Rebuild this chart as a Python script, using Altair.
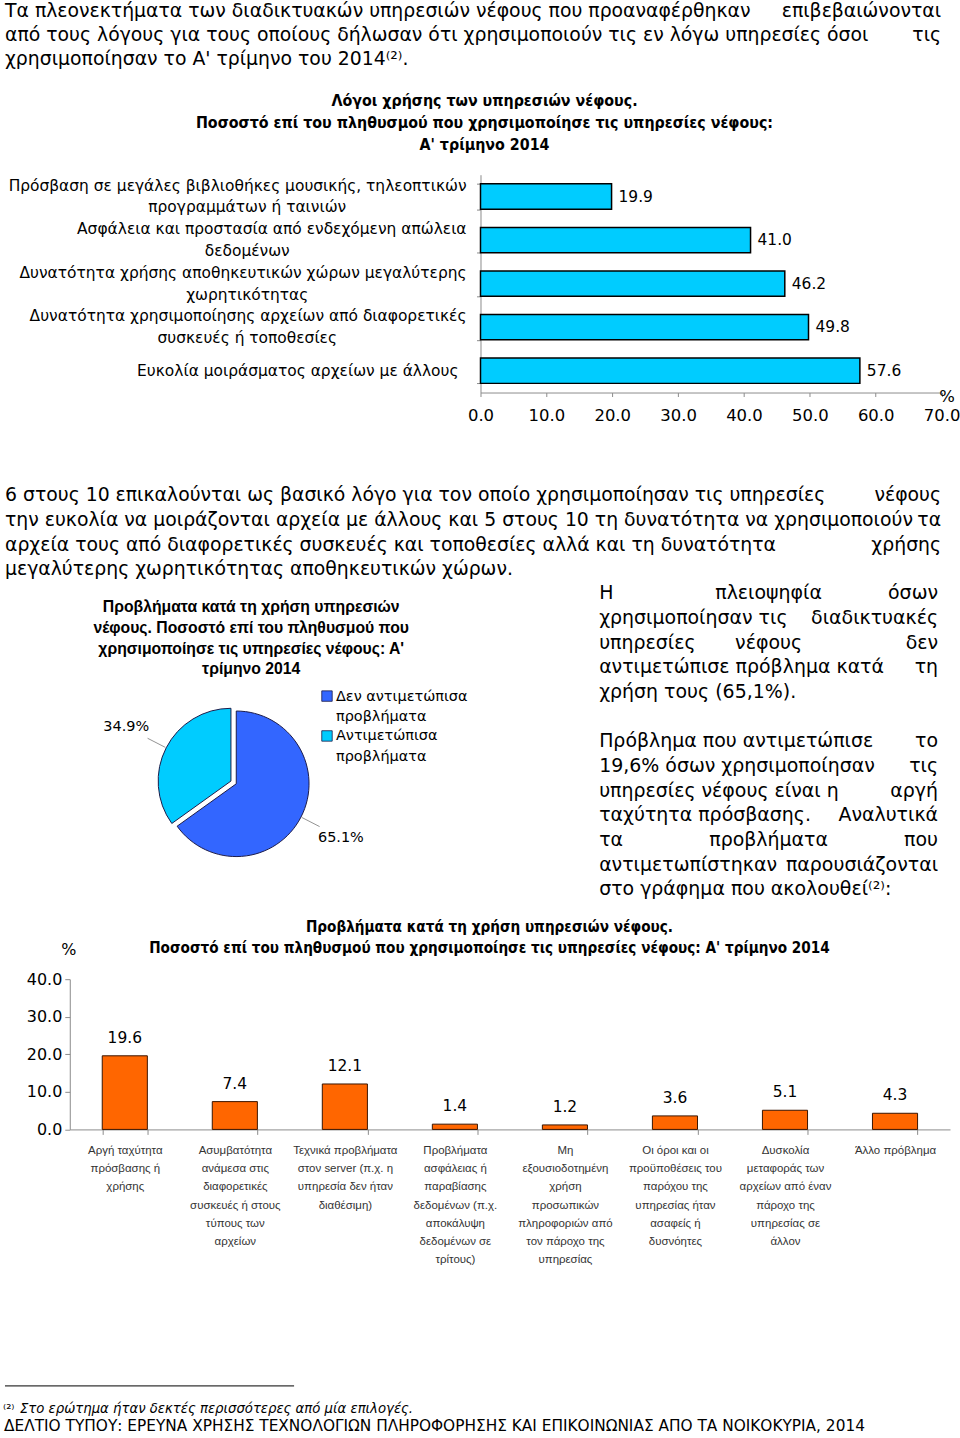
import altair as alt
import pandas as pd

W = 960
BODY = "DejaVu Sans"
NARROW = "Liberation Sans Narrow, DejaVu Sans Condensed, sans-serif"
ARIAL = "Liberation Sans, Arial, sans-serif"

# ---------------- data ----------------
para1 = [
    ["Τα πλεονεκτήματα των διαδικτυακών υπηρεσιών νέφους που προαναφέρθηκαν", "", "επιβεβαιώνονται"],
    ["από τους λόγους για τους οποίους δήλωσαν ότι χρησιμοποιούν τις εν λόγω υπηρεσίες όσοι", "", "τις"],
    ["χρησιμοποίησαν το Α' τρίμηνο του 2014⁽²⁾.", "", ""],
]
chart1_title = ["Λόγοι χρήσης των υπηρεσιών νέφους.",
                "Ποσοστό επί του πληθυσμού που χρησιμοποίησε τις υπηρεσίες νέφους:",
                "Α' τρίμηνο 2014"]
reason_line1 = ["Πρόσβαση σε μεγάλες βιβλιοθήκες μουσικής, τηλεοπτικών",
                "Ασφάλεια και προστασία από ενδεχόμενη απώλεια",
                "Δυνατότητα χρήσης αποθηκευτικών χώρων μεγαλύτερης",
                "Δυνατότητα χρησιμοποίησης αρχείων από διαφορετικές",
                "Ευκολία μοιράσματος αρχείων με άλλους"]
reason_line2 = ["προγραμμάτων ή ταινιών", "δεδομένων", "χωρητικότητας",
                "συσκευές ή  τοποθεσίες", ""]
reason_values = [19.9, 41.0, 46.2, 49.8, 57.6]
chart1_ticks = [0, 10, 20, 30, 40, 50, 60, 70]

para2 = [
    ["6 στους 10 επικαλούνται ως βασικό λόγο για τον οποίο χρησιμοποίησαν τις υπηρεσίες", "", "νέφους"],
    ["την ευκολία να μοιράζονται αρχεία με άλλους και 5 στους 10 τη δυνατότητα να χρησιμοποιούν", "", "τα"],
    ["αρχεία τους από διαφορετικές συσκευές και τοποθεσίες αλλά και τη δυνατότητα", "", "χρήσης"],
    ["μεγαλύτερης χωρητικότητας αποθηκευτικών χώρων.", "", ""],
]
pie_title = ["Προβλήματα κατά τη χρήση υπηρεσιών",
             "νέφους. Ποσοστό επί του πληθυσμού που",
             "χρησιμοποίησε τις υπηρεσίες νέφους:  Α'",
             "τρίμηνο 2014"]
pie_cats = ["Δεν αντιμετώπισα\nπροβλήματα", "Αντιμετώπισα\nπροβλήματα"]
pie_values = [65.1, 34.9]
pie_colors = ["#3366FF", "#00CCFF"]

para3 = [
    ["Η", "πλειοψηφία", "όσων"],
    ["χρησιμοποίησαν τις", "", "διαδικτυακές"],
    ["υπηρεσίες", "νέφους", "δεν"],
    ["αντιμετώπισε πρόβλημα κατά", "", "τη"],
    ["χρήση τους (65,1%).", "", ""],
    ["", "", ""],
    ["Πρόβλημα που αντιμετώπισε", "", "το"],
    ["19,6% όσων χρησιμοποίησαν", "", "τις"],
    ["υπηρεσίες νέφους είναι η", "", "αργή"],
    ["ταχύτητα πρόσβασης.", "", "Αναλυτικά"],
    ["τα", "προβλήματα", "που"],
    ["αντιμετωπίστηκαν", "", "παρουσιάζονται"],
    ["στο γράφημα που ακολουθεί⁽²⁾:", "", ""],
]
chart2_title = ["Προβλήματα κατά τη χρήση υπηρεσιών νέφους.",
                "Ποσοστό επί του πληθυσμού που χρησιμοποίησε τις υπηρεσίες νέφους: Α' τρίμηνο  2014"]
problems = [
    "Αργή ταχύτητα\nπρόσβασης ή\nχρήσης",
    "Ασυμβατότητα\nανάμεσα στις\nδιαφορετικές\nσυσκευές ή στους\nτύπους των\nαρχείων",
    "Τεχνικά προβλήματα\nστον server (π.χ. η\nυπηρεσία δεν ήταν\nδιαθέσιμη)",
    "Προβλήματα\nασφάλειας ή\nπαραβίασης\nδεδομένων (π.χ.\nαποκάλυψη\nδεδομένων σε\nτρίτους)",
    "Μη\nεξουσιοδοτημένη\nχρήση\nπροσωπικών\nπληροφοριών από\nτον πάροχο της\nυπηρεσίας",
    "Οι όροι και οι\nπροϋποθέσεις του\nπαρόχου της\nυπηρεσίας ήταν\nασαφείς ή\nδυσνόητες",
    "Δυσκολία\nμεταφοράς των\nαρχείων από έναν\nπάροχο της\nυπηρεσίας σε\nάλλον",
    "Άλλο πρόβλημα",
]
problem_values = [19.6, 7.4, 12.1, 1.4, 1.2, 3.6, 5.1, 4.3]
chart2_ticks = [0, 10, 20, 30, 40]

footnote_mark = "⁽²⁾"
footnote = "Στο ερώτημα ήταν δεκτές περισσότερες από μία επιλογές."
source = "ΔΕΛΤΙΟ ΤΥΠΟΥ:  ΕΡΕΥΝΑ ΧΡΗΣΗΣ ΤΕΧΝΟΛΟΓΙΩΝ ΠΛΗΡΟΦΟΡΗΣΗΣ ΚΑΙ ΕΠΙΚΟΙΝΩΝΙΑΣ ΑΠΟ ΤΑ ΝΟΙΚΟΚΥΡΙΑ, 2014"

PARA_SIZE = 18.9


# ---------------- helpers ----------------
def paragraph(lines, x0, x1, y0, y1, size=PARA_SIZE, font=BODY):
    df = pd.DataFrame(lines, columns=["l", "c", "r"])
    df["row"] = list(range(len(df)))
    y = alt.Y("row:O", scale=alt.Scale(type="point", range=[y0, y1], padding=0), axis=None)
    common = dict(baseline="middle", font=font, fontSize=size, color="black")
    base = alt.Chart(df)
    return [
        base.mark_text(align="left", **common).encode(x=alt.value(x0), y=y, text="l:N"),
        base.mark_text(align="center", **common).encode(x=alt.value((x0 + x1) / 2), y=y, text="c:N"),
        base.mark_text(align="right", **common).encode(x=alt.value(x1), y=y, text="r:N"),
    ]


def block_text(lines, x, y, size, font, weight="normal", lh=22, align="center"):
    df = pd.DataFrame({"t": ["\n".join(lines)]})
    return alt.Chart(df).mark_text(
        align=align, baseline="line-top", lineBreak="\n", lineHeight=lh,
        font=font, fontSize=size, fontWeight=weight, color="black"
    ).encode(x=alt.value(x), y=alt.value(y), text="t:N")


# ---------------- section A: first paragraph ----------------
secA = alt.layer(*paragraph(para1, 5, 944, 9, 57)).properties(width=W, height=84)

# ---------------- section B: reasons bar chart ----------------
H_B = 386
df1 = pd.DataFrame({"cat": reason_line1, "l2": reason_line2, "value": reason_values})
axis_line = "#8c8c8c"
yB = alt.Y("cat:N", sort=reason_line1,
           scale=alt.Scale(range=[89, 307.5], paddingInner=0.417, paddingOuter=0.21),
           axis=alt.Axis(orient="left", offset=-482, labels=False, tickBand="extent",
                         tickSize=4, domainColor=axis_line, tickColor=axis_line, title=None))
xB = alt.X("value:Q",
           scale=alt.Scale(domain=[0, 70], range=[482, 944.5], nice=False),
           axis=alt.Axis(orient="bottom", offset=307.5 - H_B, values=chart1_ticks, format=".1f",
                         tickSize=4, labelFontSize=16.5, labelFont=BODY, labelPadding=11,
                         labelColor="black", labelFlush=False, grid=False,
                         domainColor=axis_line, tickColor=axis_line, title=None))
baseB = alt.Chart(df1)
barsB = baseB.mark_bar(color="#00CCFF", stroke="black", strokeWidth=1.5).encode(x=xB, y=yB)
valsB = baseB.mark_text(align="left", baseline="middle", dx=7, font=BODY, fontSize=15.5,
                        color="black").encode(x=xB, y=yB, text=alt.Text("value:Q", format=".1f"))
lab1 = baseB.transform_filter("datum.l2 != ''").mark_text(
    align="right", baseline="middle", dy=-11, font=BODY, fontSize=15.5, color="black"
).encode(x=alt.value(468), y=yB, text="cat:N")
lab2 = baseB.transform_filter("datum.l2 != ''").mark_text(
    align="center", baseline="middle", dy=11, font=BODY, fontSize=15.5, color="black"
).encode(x=alt.value(248), y=yB, text="l2:N")
lab3 = baseB.transform_filter("datum.l2 == ''").mark_text(
    align="right", baseline="middle", font=BODY, fontSize=15.5, color="black"
).encode(x=alt.value(460), y=yB, text="cat:N")
pctB = alt.Chart(pd.DataFrame({"t": ["%"]})).mark_text(
    align="center", baseline="middle", font=BODY, fontSize=16.5, color="black"
).encode(x=alt.value(950), y=alt.value(312), text="t:N")
titleB = block_text(chart1_title, 486, 4, 15.9, NARROW, "bold", lh=22)
secB = alt.layer(titleB, barsB, valsB, lab1, lab2, lab3, pctB).properties(width=W, height=H_B)

# ---------------- section C: second paragraph ----------------
secC = alt.layer(*paragraph(para2, 5, 944, 24, 99)).properties(width=W, height=110)

# ---------------- section D: pie + text ----------------
pie_df = pd.DataFrame({"cat": pie_cats, "value": pie_values})
color = alt.Color("cat:N", scale=alt.Scale(domain=pie_cats, range=pie_colors), legend=None)
pie_base = alt.Chart(pie_df).transform_window(
    cum="sum(value)", frame=[None, 0]
).transform_joinaggregate(total="sum(value)").transform_calculate(
    t1="2*PI*datum.cum/datum.total",
    t0="2*PI*(datum.cum-datum.value)/datum.total",
).transform_calculate(
    mid="(datum.t0+datum.t1)/2",
    ex="datum.value < 50 ? 6 : 0",
).transform_calculate(
    px="237 + datum.ex*sin(datum.mid)",
    py="204 - datum.ex*cos(datum.mid)",
).transform_calculate(
    lx="datum.px + 118*sin(datum.mid)",
    ly="datum.py - 118*cos(datum.mid)",
    ax1="datum.px + 74*sin(datum.mid)",
    ay1="datum.py - 74*cos(datum.mid)",
    ax2="datum.px + 94*sin(datum.mid)",
    ay2="datum.py - 94*cos(datum.mid)",
    lbl="format(datum.value, '.1f') + '%'",
)
arcs = pie_base.mark_arc(radius=73, stroke="#1c1c4a", strokeWidth=1).encode(
    theta=alt.Theta("t0:Q", scale=None), theta2="t1:Q",
    x=alt.X("px:Q", scale=None), y=alt.Y("py:Q", scale=None), color=color)
leaders = pie_base.mark_rule(color="#777777", strokeWidth=0.8).encode(
    x=alt.X("ax1:Q", scale=None), y=alt.Y("ay1:Q", scale=None), x2="ax2:Q", y2="ay2:Q")
pie_labels = pie_base.mark_text(font=BODY, fontSize=14.5, color="black", baseline="middle").encode(
    x=alt.X("lx:Q", scale=None), y=alt.Y("ly:Q", scale=None), text="lbl:N")
yLeg = alt.Y("cat:N", sort=pie_cats, scale=alt.Scale(type="point", range=[116, 156], padding=0), axis=None)
leg_sq = alt.Chart(pie_df).mark_square(size=110, stroke="#1c1c4a", strokeWidth=0.8, opacity=1).encode(
    x=alt.value(328), y=yLeg, color=color)
leg_tx = alt.Chart(pie_df).mark_text(
    align="left", baseline="line-top", dy=-10.5, lineBreak="\n", lineHeight=21,
    font=BODY, fontSize=14.5, color="black").encode(x=alt.value(337), y=yLeg, text="cat:N")
titleD = block_text(pie_title, 252, 17, 15.8, ARIAL, "bold", lh=20.7)
secD = alt.layer(titleD, arcs, leaders, pie_labels, leg_sq, leg_tx,
                 *paragraph(para3, 601, 941, 13, 310, size=19)).resolve_scale(
    x="independent", y="independent").properties(width=W, height=325)

# ---------------- section E: problems bar chart ----------------
H_E = 475
df2 = pd.DataFrame({"problem": problems, "value": problem_values})
xE = alt.X("problem:N", sort=problems,
           scale=alt.Scale(range=[70, 953], paddingInner=0.59, paddingOuter=0.295),
           axis=alt.Axis(orient="bottom", offset=225.7 - H_E, tickBand="extent", tickSize=5,
                         labelAngle=0, labelExpr="split(datum.label, '\\n')",
                         labelFont=ARIAL, labelFontSize=11.5, labelLineHeight=18.3,
                         labelPadding=10, labelColor="#333333", labelLimit=0,
                         domainColor=axis_line, tickColor=axis_line, title=None))
yE = alt.Y("value:Q", scale=alt.Scale(domain=[0, 40], range=[225.7, 75], nice=False),
           axis=alt.Axis(orient="left", offset=-70, values=chart2_ticks, format=".1f",
                         tickSize=5, labelFont=BODY, labelFontSize=16, labelPadding=3,
                         labelColor="black", grid=False, domainColor=axis_line,
                         tickColor=axis_line, title=None))
baseE = alt.Chart(df2)
barsE = baseE.mark_bar(color="#FF6600", stroke="#3a1500", strokeWidth=1).encode(x=xE, y=yE)
valsE = baseE.mark_text(baseline="middle", dy=-18, font=BODY, fontSize=15.5, color="black").encode(
    x=xE, y=yE, text=alt.Text("value:Q", format=".1f"))
titleE = block_text(chart2_title, 491, 12.5, 15.2, NARROW, "bold", lh=21)
pctE = alt.Chart(pd.DataFrame({"t": ["%"]})).mark_text(
    align="center", baseline="middle", font=BODY, fontSize=16, color="black"
).encode(x=alt.value(69), y=alt.value(46), text="t:N")
secE = alt.layer(titleE, pctE, barsE, valsE).properties(width=W, height=H_E)

# ---------------- section F: footnote ----------------
fn_rule = alt.Chart(pd.DataFrame({"t": [""]})).mark_rule(color="black", strokeWidth=1).encode(
    x=alt.value(5), x2=alt.value(295), y=alt.value(8))
fn_mark = alt.Chart(pd.DataFrame({"t": [footnote_mark]})).mark_text(
    align="left", baseline="middle", font=BODY, fontSize=13, color="black"
).encode(x=alt.value(3), y=alt.value(31), text="t:N")
fn_text = alt.Chart(pd.DataFrame({"t": [footnote]})).mark_text(
    align="left", baseline="middle", font=BODY, fontSize=13.3, fontStyle="italic", color="black"
).encode(x=alt.value(20), y=alt.value(31), text="t:N")
src_text = alt.Chart(pd.DataFrame({"t": [source]})).mark_text(
    align="left", baseline="middle", font=BODY, fontSize=15.4, color="black"
).encode(x=alt.value(4), y=alt.value(48), text="t:N")
secF = alt.layer(fn_rule, fn_mark, fn_text, src_text).properties(width=W, height=58)

chart = alt.vconcat(secA, secB, secC, secD, secE, secF, spacing=0).properties(
    padding=0, background="white"
).configure_view(strokeWidth=0)

chart.save("out.html", embed_options={"renderer": "svg", "actions": False})
